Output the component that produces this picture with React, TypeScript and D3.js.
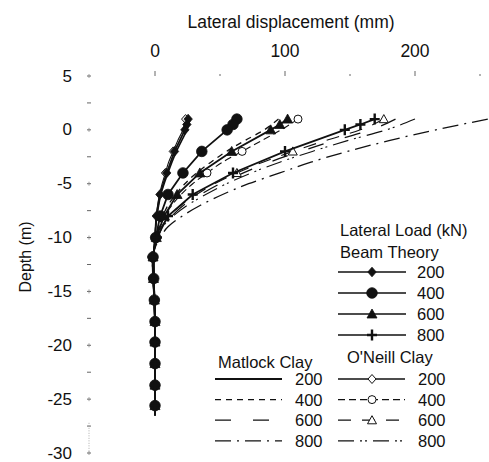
import React from 'react';
import * as d3 from 'd3';

// ---------------- data (displacement in mm, depth in m) ----------------
const BEAM_DEPTHS = [1, 0.5, 0, -2, -4, -6, -8, -10, -11.8, -13.8, -15.8, -17.8, -19.7, -21.7, -23.7, -25.6];
const PILE_TIP = -26.5;
const BEAM_200 = [25.5, 24.5, 23, 15, 9, 3.8, 1, 0, -1.2, -1, -0.4, 0, 0, 0, 0, 0];
const BEAM_400 = [63, 60, 55.5, 36, 21.5, 10, 4, 0.5, -1.5, -1, -0.5, 0, 0, 0, 0, 0];
const BEAM_600 = [102, 96, 89, 59, 34.5, 17, 7, 1, -1.5, -1.2, -0.5, 0, 0, 0, 0, 0];
const BEAM_800 = [169, 158, 146, 100, 60, 29, 10, 1.5, -2, -1.5, -0.5, 0, 0, 0, 0, 0];

const CLAY_DEPTHS = [1, 0, -1, -2, -3, -4, -5, -6, -7, -8, -9, -10, -12, -14, -16, -20, -26.5];
const MATLOCK_200 = [27, 24.5, 20.5, 16.5, 13, 10, 7, 4.5, 2.8, 1.5, 0.6, 0, -1, -0.8, -0.3, 0, 0];
const MATLOCK_400 = [95, 84, 69, 55, 43, 32, 23, 16, 10, 6, 3, 1, -1.2, -1, -0.4, 0, 0];
const MATLOCK_600 = [185, 166, 138, 112, 88, 68, 50, 35, 22, 13, 6, 2, -1.8, -1.4, -0.5, 0, 0];
const MATLOCK_800 = [256, 216, 180, 148, 120, 96, 72, 52, 35, 21, 10, 4, -2, -1.5, -0.5, 0, 0];
const ONEILL_200 = [23.5, 21.5, 17.5, 14, 10.5, 8, 5.5, 3.5, 2, 1, 0.4, 0, -0.8, -0.6, -0.2, 0, 0];
const ONEILL_400 = [110, 97, 82, 67, 52, 40, 29, 20, 13, 7.5, 3.5, 1.5, -1.5, -1.2, -0.4, 0, 0];
const ONEILL_600 = [176, 158, 131, 106, 83, 63, 46, 32, 20, 11, 5, 1.8, -1.8, -1.4, -0.5, 0, 0];
const ONEILL_800 = [200, 178, 148, 121, 96, 74, 55, 39, 25, 14, 6, 2.5, -2, -1.5, -0.5, 0, 0];
const ONEILL_MARKER_DEPTHS = [1, -2, -4];

const LOADS = ['200', '400', '600', '800'];
const X_TICKS = [0, 50, 100, 150, 200, 250];
const X_LABELS = [0, 100, 200];
const Y_TICKS = d3.range(5, -30.01, -2.5);
const Y_LABELS = [5, 0, -5, -10, -15, -20, -25, -30];

const X_TITLE = 'Lateral displacement (mm)';
const Y_TITLE = 'Depth (m)';
const LEGEND_TITLE = 'Lateral Load (kN)';
const BEAM_TITLE = 'Beam Theory';
const MATLOCK_TITLE = 'Matlock Clay';
const ONEILL_TITLE = "O'Neill Clay";

// ---------------- styles ----------------
const FONT = '"Liberation Sans", Arial, Helvetica, sans-serif';
const INK = '#111';
const BEAM_KINDS = ['diamond', 'circle', 'triangle', 'plus'];
const ONEILL_KINDS = ['diamond', 'circle', 'triangle', 'none'];
const MATLOCK_DASH = ['none', '6 5', '16 22', '16 6 2 6'];
const ONEILL_DASH = ['none', '7 4', '13 11', '16 6 2 3 2 6'];

const x = d3.scaleLinear().domain([0, 250]).range([155, 480]);
const y = d3.scaleLinear().domain([5, -30]).range([76, 453]);

function Marker({ kind, cx, cy, open }: { kind: string; cx: number; cy: number; open?: boolean }) {
  const fill = open ? '#fff' : INK;
  const sw = open ? 1 : 0.8;
  if (kind === 'diamond') {
    const w = open ? 4 : 4.2, h = open ? 4.5 : 4.8;
    return <path d={`M${cx},${cy - h}L${cx + w},${cy}L${cx},${cy + h}L${cx - w},${cy}Z`} fill={fill} stroke={INK} strokeWidth={sw} />;
  }
  if (kind === 'circle') {
    return <circle cx={cx} cy={cy} r={open ? 4 : 5.3} fill={fill} stroke={INK} strokeWidth={sw} />;
  }
  if (kind === 'triangle') {
    const s = open ? 4.5 : 5;
    return <path d={`M${cx},${cy - s}L${cx + s},${cy + s * 0.8}L${cx - s},${cy + s * 0.8}Z`} fill={fill} stroke={INK} strokeWidth={sw} />;
  }
  if (kind === 'plus') {
    return <path d={`M${cx - 5},${cy}H${cx + 5}M${cx},${cy - 5.5}V${cy + 5.5}`} stroke={INK} strokeWidth={2.4} fill="none" />;
  }
  return null;
}

export default function App() {
  const beamSeries = [BEAM_200, BEAM_400, BEAM_600, BEAM_800];
  const matlockSeries = [MATLOCK_200, MATLOCK_400, MATLOCK_600, MATLOCK_800];
  const oneillSeries = [ONEILL_200, ONEILL_400, ONEILL_600, ONEILL_800];

  const beamLine = d3
    .line<[number, number]>()
    .x((d) => x(d[0]))
    .y((d) => y(d[1]))
    .curve(d3.curveLinear);
  const clayLine = d3
    .line<[number, number]>()
    .x((d) => x(d[0]))
    .y((d) => y(d[1]))
    .curve(d3.curveMonotoneY);

  const beamPts = (vals: number[]): [number, number][] => {
    const pts = vals.map((v, i) => [v, BEAM_DEPTHS[i]] as [number, number]);
    pts.push([0, PILE_TIP]);
    return pts;
  };
  const clayPts = (vals: number[]): [number, number][] => vals.map((v, i) => [v, CLAY_DEPTHS[i]] as [number, number]);

  // legend layout
  const beamRowY = (i: number) => 272 + i * 21;
  const lowRowY = (i: number) => 379 + i * 20.6;

  return (
    <svg
      width={489}
      height={462}
      style={{ position: 'absolute', left: 0, top: 0, background: '#fff' }}
      fontFamily={FONT}
    >
      <rect x={0} y={0} width={489} height={462} fill="#fff" />

      {/* top axis */}
      <text x={291} y={28} fontSize={17.5} textAnchor="middle" fill={INK}>
        {X_TITLE}
      </text>
      {X_LABELS.map((t) => (
        <text key={t} x={x(t)} y={57} fontSize={17.5} textAnchor="middle" fill={INK}>
          {t}
        </text>
      ))}
      {X_TICKS.map((t) => (
        <line key={t} x1={x(t)} x2={x(t)} y1={y(5) - (t % 100 === 0 ? 5 : 2)} y2={y(5)} stroke="#666" strokeWidth={1} />
      ))}

      {/* left axis */}
      {Y_TICKS.map((t) => (
        <g key={t}>
          <line x1={87} x2={91} y1={y(t)} y2={y(t)} stroke="#666" strokeWidth={1} />
          {t % 5 === 0 && <line x1={89} x2={89} y1={y(t) - 2} y2={y(t) + 2} stroke="#888" strokeWidth={0.8} />}
        </g>
      ))}
      <line x1={89} x2={89} y1={y(-27.2)} y2={y(-30)} stroke="#999" strokeWidth={0.8} strokeDasharray="1 1.5" />
      {Y_LABELS.map((t) => (
        <text key={t} x={72} y={y(t) + 5.5} fontSize={17} textAnchor="end" fill={INK}>
          {t}
        </text>
      ))}
      <text
        transform={`translate(31,${y(-11.8)}) rotate(-90)`}
        fontSize={16}
        textAnchor="middle"
        fill={INK}
      >
        {Y_TITLE}
      </text>

      {/* clay model curves */}
      {matlockSeries.map((vals, i) => (
        <path
          key={'m' + i}
          d={clayLine(clayPts(vals)) || ''}
          fill="none"
          stroke={INK}
          strokeWidth={i === 0 ? 1.6 : 1.3}
          strokeDasharray={MATLOCK_DASH[i]}
        />
      ))}
      {oneillSeries.map((vals, i) => (
        <g key={'o' + i}>
          <path
            d={clayLine(clayPts(vals)) || ''}
            fill="none"
            stroke={INK}
            strokeWidth={1.1}
            strokeDasharray={ONEILL_DASH[i]}
          />
          {ONEILL_MARKER_DEPTHS.map((dep) => {
            const idx = CLAY_DEPTHS.indexOf(dep);
            return <Marker key={dep} kind={ONEILL_KINDS[i]} cx={x(vals[idx])} cy={y(dep)} open />;
          })}
        </g>
      ))}

      {/* beam theory curves */}
      {beamSeries.map((vals, i) => (
        <g key={'b' + i}>
          <path d={beamLine(beamPts(vals)) || ''} fill="none" stroke={INK} strokeWidth={1.8} />
          {vals.map((v, j) => (
            <Marker key={j} kind={BEAM_KINDS[i]} cx={x(v)} cy={y(BEAM_DEPTHS[j])} />
          ))}
        </g>
      ))}

      {/* legend */}
      <text x={340} y={236} fontSize={16.5} fill={INK}>
        {LEGEND_TITLE}
      </text>
      <text x={340} y={258} fontSize={16.5} fill={INK}>
        {BEAM_TITLE}
      </text>
      {LOADS.map((l, i) => (
        <g key={'lb' + i}>
          <line x1={338} x2={406} y1={beamRowY(i)} y2={beamRowY(i)} stroke={INK} strokeWidth={1.6} />
          <Marker kind={BEAM_KINDS[i]} cx={372} cy={beamRowY(i)} />
          <text x={417} y={beamRowY(i) + 6} fontSize={16.5} fill={INK}>
            {l}
          </text>
        </g>
      ))}
      <text x={218} y={368} fontSize={16.5} fill={INK}>
        {MATLOCK_TITLE}
      </text>
      <text x={347} y={363} fontSize={16.5} fill={INK}>
        {ONEILL_TITLE}
      </text>
      {LOADS.map((l, i) => (
        <g key={'lm' + i}>
          <line
            x1={215}
            x2={282}
            y1={lowRowY(i)}
            y2={lowRowY(i)}
            stroke={INK}
            strokeWidth={i === 0 ? 1.8 : 1.3}
            strokeDasharray={MATLOCK_DASH[i]}
          />
          <text x={295} y={lowRowY(i) + 6} fontSize={16.5} fill={INK}>
            {l}
          </text>
          <line
            x1={338}
            x2={405}
            y1={lowRowY(i)}
            y2={lowRowY(i)}
            stroke={INK}
            strokeWidth={1.3}
            strokeDasharray={ONEILL_DASH[i]}
          />
          <Marker kind={ONEILL_KINDS[i]} cx={372} cy={lowRowY(i)} open />
          <text x={418} y={lowRowY(i) + 6} fontSize={16.5} fill={INK}>
            {l}
          </text>
        </g>
      ))}
    </svg>
  );
}
